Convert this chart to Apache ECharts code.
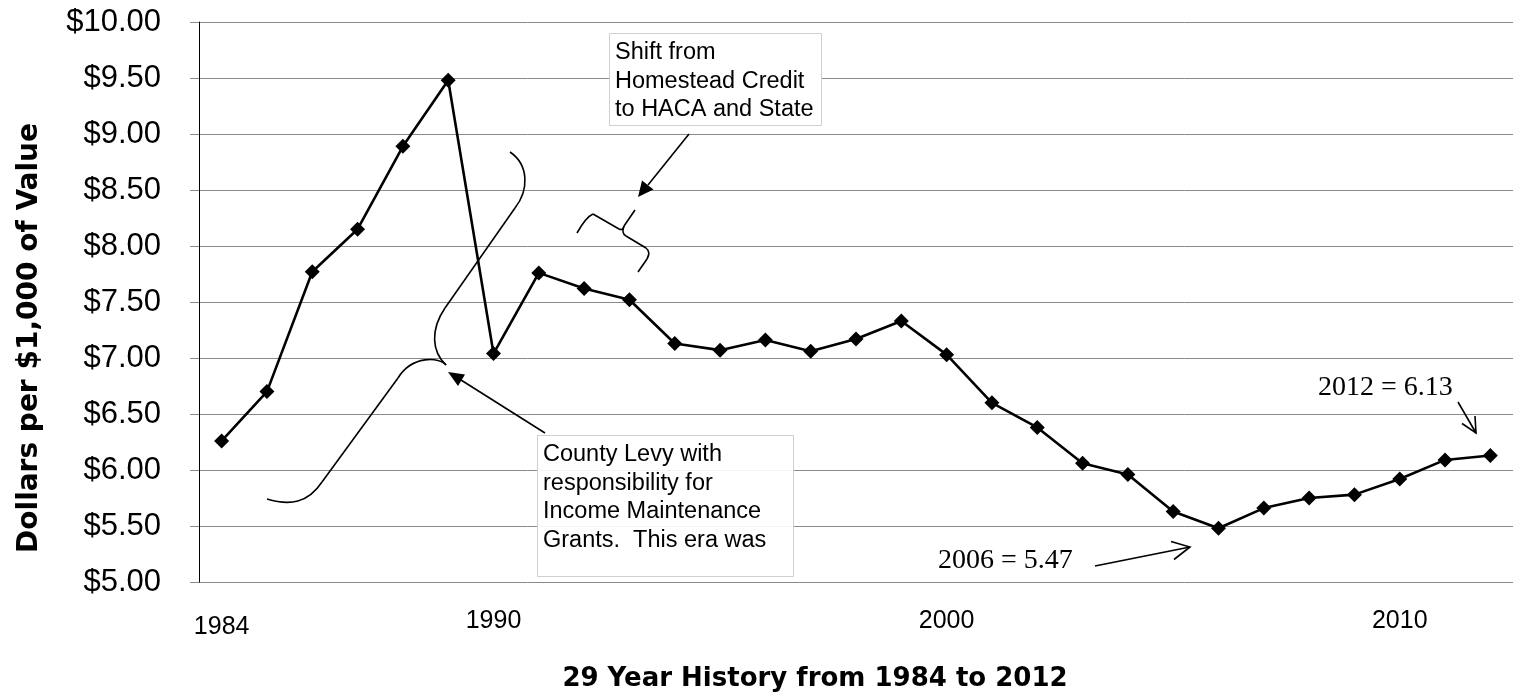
<!DOCTYPE html>
<html>
<head>
<meta charset="utf-8">
<script src="https://cdn.jsdelivr.net/npm/echarts@6/dist/echarts.min.js"></script>
<style>
html,body{margin:0;padding:0;background:#fff;}
#chart{width:1513px;height:695px;}
</style>
</head>
<body>
<div id="chart"></div>
<script>
const years = ['1984','1985','1986','1987','1988','1989','1990','1991','1992','1993','1994','1995','1996','1997','1998','1999','2000','2001','2002','2003','2004','2005','2006','2007','2008','2009','2010','2011','2012'];
const levyRate = [6.26, 6.70, 7.77, 8.15, 8.89, 9.48, 7.04, 7.76, 7.62, 7.52, 7.13, 7.07, 7.16, 7.06, 7.17, 7.33, 7.03, 6.60, 6.38, 6.06, 5.96, 5.63, 5.48, 5.66, 5.75, 5.78, 5.92, 6.09, 6.13];
const shownYears = ['1984','1990','2000','2010'];
const yMin = 5, yMax = 10, yStep = 0.5;
const yTitle = 'Dollars per $1,000 of Value';
const xTitle = '29 Year History from 1984 to 2012';
const noteShift = 'Shift from\nHomestead Credit\nto HACA and State';
const noteCounty = 'County Levy with\nresponsibility for\nIncome Maintenance\nGrants.  This era was';
const note2006 = '2006 = 5.47';
const note2012 = '2012 = 6.13';

const chart = echarts.init(document.getElementById('chart'));
const arial = 'Liberation Sans, Arial, sans-serif';
const serif = 'Liberation Serif, Times New Roman, serif';
const boldFont = 'DejaVu Sans, Liberation Sans, sans-serif';
const ink = '#000';
const penW = 1.6;

function arrowHead(tip, l, r) {
  return {type:'polygon', shape:{points:[tip, l, r]}, style:{fill:ink}, z:20};
}
function seg(x1,y1,x2,y2,w){
  return {type:'line', shape:{x1:x1,y1:y1,x2:x2,y2:y2}, style:{stroke:ink, lineWidth:w||penW}, z:20};
}
function quad(x1,y1,cx,cy,x2,y2){
  return {type:'bezierCurve', shape:{x1:x1,y1:y1,cpx1:cx,cpy1:cy,x2:x2,y2:y2}, style:{stroke:ink, fill:null, lineWidth:penW}, z:20};
}
function cubic(x1,y1,cx1,cy1,cx2,cy2,x2,y2){
  return {type:'bezierCurve', shape:{x1:x1,y1:y1,cpx1:cx1,cpy1:cy1,cpx2:cx2,cpy2:cy2,x2:x2,y2:y2}, style:{stroke:ink, fill:null, lineWidth:penW}, z:20};
}

chart.setOption({
  animation:false,
  grid:{left:199, top:22, width:1316, height:560, containLabel:false},
  xAxis:{
    type:'category', data:years, boundaryGap:true,
    axisLine:{show:false}, axisTick:{show:false}, splitLine:{show:false},
    axisLabel:{
      interval:0, margin:27, color:ink, fontFamily:arial, fontSize:25,
      formatter:function(v){ if(shownYears.indexOf(v)<0) return ''; return v==='1984' ? '{low|'+v+'}' : v; },
      rich:{low:{fontFamily:arial, fontSize:25, color:ink, padding:[6,0,0,0]}}
    }
  },
  yAxis:{
    type:'value', min:yMin, max:yMax, interval:yStep,
    axisLine:{show:true, lineStyle:{color:ink, width:1}},
    axisTick:{show:true, length:9, lineStyle:{color:'#8a8a8a'}},
    splitLine:{show:true, lineStyle:{color:'#8a8a8a', width:1}},
    axisLabel:{margin:38, color:ink, fontFamily:arial, fontSize:31, formatter:function(v){return '$'+v.toFixed(2);}}
  },
  series:[{
    type:'line', data:levyRate, symbol:'diamond', symbolSize:15,
    lineStyle:{color:ink, width:2.6}, itemStyle:{color:ink}, z:10
  }],
  graphic:[
    {type:'text', x:30, y:338, rotation:Math.PI/2, style:{text:yTitle, fill:ink, font:'bold 28px '+boldFont, align:'center', verticalAlign:'middle'}},
    {type:'text', x:815, y:679, style:{text:xTitle, fill:ink, font:'bold 26px '+boldFont, align:'center', verticalAlign:'middle'}},
    // Shift box
    {type:'rect', shape:{x:609.5, y:33.5, width:212, height:92}, style:{fill:'#fff', stroke:'#cfcfcf', lineWidth:1}, z:15},
    {type:'text', x:615, y:38, z:16, style:{text:noteShift, fill:ink, font:'23.5px '+arial, lineHeight:28.7, align:'left', verticalAlign:'top'}},
    seg(689,134,648,185),
    arrowHead([638,197],[653.5,189.5],[642,180.5]),
    // small brace
    quad(577,233,586,217,593,214),
    seg(593,214,619,229),
    quad(619,229,623,231,624,226),
    seg(624,226,635,210),
    quad(624,226,621,233,626,236),
    seg(626,236,646,248),
    quad(646,248,651,252,647,259),
    seg(647,259,638,272),
    // big S brace
    cubic(510,152,529,165,529,190,515,208),
    seg(515,208,445,308),
    cubic(445,308,430,330,432,352,446,365),
    cubic(446,365,440,357,412,355,398,378),
    seg(398,378,322,482),
    cubic(322,482,308,503,290,506,267,499),
    // County box
    {type:'rect', shape:{x:537.5, y:435.5, width:256, height:141}, style:{fill:'rgba(255,255,255,0.9)', stroke:'#cfcfcf', lineWidth:1}, z:15},
    {type:'text', x:543, y:440, z:16, style:{text:noteCounty, fill:ink, font:'23.5px '+arial, lineHeight:28.7, align:'left', verticalAlign:'top'}},
    seg(545,433,461,380),
    arrowHead([448,372],[465,374.5],[458,386]),
    // 2006 note
    {type:'text', x:938, y:561, z:16, style:{text:note2006, fill:ink, font:'28px '+serif, align:'left', verticalAlign:'middle'}},
    seg(1095,566,1190,547),
    {type:'polyline', z:20, shape:{points:[[1171,541.5],[1190,547],[1174,559.5]]}, style:{stroke:ink, fill:null, lineWidth:penW}},
    // 2012 note
    {type:'text', x:1318, y:388, z:16, style:{text:note2012, fill:ink, font:'28px '+serif, align:'left', verticalAlign:'middle'}},
    seg(1458,402,1476,433),
    {type:'polyline', z:20, shape:{points:[[1462,423.5],[1476,433],[1475,416]]}, style:{stroke:ink, fill:null, lineWidth:penW}}
  ]
});
</script>
</body>
</html>
